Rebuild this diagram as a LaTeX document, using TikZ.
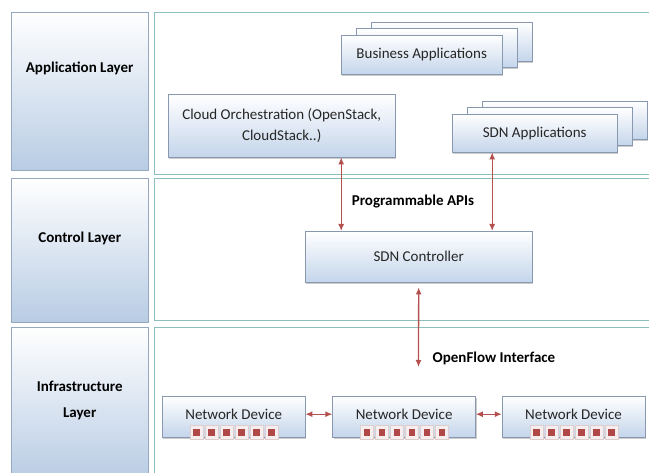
\documentclass[tikz,border=0pt]{standalone}
\usepackage{fontspec}
\setmainfont{Carlito}
\usetikzlibrary{positioning,shadows,arrows.meta}

\definecolor{laybot}{RGB}{184,204,228}
\definecolor{layline}{RGB}{150,168,190}
\definecolor{panline}{RGB}{140,190,190}
\definecolor{boxbot}{RGB}{196,213,235}
\definecolor{boxline}{RGB}{135,152,175}
\definecolor{arrowred}{RGB}{180,80,78}
\definecolor{portred}{RGB}{176,72,72}
\definecolor{portbg}{RGB}{246,238,238}
\definecolor{portline}{RGB}{222,205,205}

\begin{document}
\begin{tikzpicture}[x=1pt,y=1pt]
      \tikzset{
        node distance=27pt,
        every node/.style={font=\fontsize{15}{21}\selectfont,text=black!85},
        layerbox/.style={rectangle,draw=layline,top color=white,bottom color=laybot,
          minimum width=137pt,inner sep=0pt,anchor=north west,
          drop shadow={shadow xshift=0.8pt,shadow yshift=-1.2pt,opacity=0.35}},
        layertext/.style={font=\fontsize{15}{26}\selectfont\bfseries,align=center,text=black},
        panel/.style={rectangle,draw=panline,line width=0.8pt,fill=white,
          minimum width=506pt,inner sep=0pt,anchor=north west},
        appbox/.style={rectangle,draw=boxline,top color=white,bottom color=boxbot,
          inner sep=0pt,anchor=north west,align=center,
          drop shadow={shadow xshift=1pt,shadow yshift=-1.5pt,opacity=0.4}},
        devbox/.style={appbox,minimum width=143pt,minimum height=41pt,
          text height=19pt,text depth=14pt},
        port/.style={rectangle,draw=portline,fill=portbg,minimum width=13pt,
          minimum height=14pt,inner sep=0pt,
          path picture={\fill[portred] ([shift={(-3.2pt,-3.2pt)}]path picture bounding box.center) rectangle ++(6.4pt,6.4pt);}},
        link/.style={draw=arrowred,line width=1.3pt,<->,>={Latex[length=7pt,width=6pt]}},
        linklabel/.style={font=\fontsize{15}{18}\selectfont\bfseries,text=black}
      }
      \useasboundingbox (0,0) rectangle (649,-473);

      % layers
      \node[layerbox,minimum height=158pt] (applayer) at (11,-12) {};
      \node[layerbox,minimum height=144pt] (ctrllayer) at (11,-178) {};
      \node[layerbox,minimum height=153pt] (infralayer) at (11,-327) {};
      \node[layertext] (applbl) at ([yshift=-56pt]applayer.north) {Application Layer};
      \node[layertext] (ctrllbl) at ([yshift=-60pt]ctrllayer.north) {Control Layer};
      \node[layertext] (infralbl) at ([yshift=-73pt]infralayer.north) {Infrastructure\\Layer};

      \node[panel,minimum height=162pt] (apppanel) at (154,-12) {};
      \node[panel,minimum height=142pt] (ctrlpanel) at (154,-178) {};
      \node[panel,minimum height=153pt] (infrapanel) at (154,-327) {};

      % application layer
      \foreach \s in {2,1}
        \node[appbox,minimum width=161pt,minimum height=39pt] (bizapp\s) at (341+15*\s,-35+6.5*\s) {};
      \node[appbox,minimum width=161pt,minimum height=39pt] (bizapp) at (341,-35) {Business Applications};

      \foreach \s in {2,1}
        \node[appbox,minimum width=165pt,minimum height=38pt] (sdnapp\s) at (452+15*\s,-114+6.5*\s) {};
      \node[appbox,minimum width=165pt,minimum height=38pt] (sdnapp) at (452,-114) {SDN Applications};

      \node[appbox,minimum width=227pt,minimum height=63pt] (cloud) at (168,-94) {Cloud Orchestration (OpenStack,\\CloudStack..)};

      % control layer
      \node[appbox,minimum width=227pt,minimum height=51pt] (ctrl) at (305,-231) {SDN Controller};
      \node[linklabel] (apilbl) at (413,-202) {Programmable APIs};

      % infrastructure layer
      \node[devbox] (dev1) at (162,-396) {Network Device};
      \node[devbox,right=27pt of dev1.north east,anchor=north west] (dev2) {Network Device};
      \node[devbox,right=26pt of dev2.north east,anchor=north west] (dev3) {Network Device};
      \foreach \d in {dev1,dev2,dev3}
        \foreach \i in {0,...,5}
          \node[port] (\d-p\i) at ([xshift=34.5pt+15pt*\i,yshift=5pt]\d.south west) {};

      \node[linklabel] (oflbl) at (494,-358) {OpenFlow Interface};
      \coordinate (ofend) at (418.5,-367);

      \draw[link] ([xshift=59.5pt]cloud.south) -- ([xshift=59.5pt]cloud.south |- ctrl.north);
      \draw[link] ([xshift=-42.5pt]sdnapp.south) -- ([xshift=-42.5pt]sdnapp.south |- ctrl.north);
      \draw[link,shorten <=5pt] (ctrl.south) -- (ofend);
      \draw[link] ([yshift=2.5pt]dev1.east) -- ([yshift=2.5pt]dev2.west);
      \draw[link] ([yshift=2.5pt]dev2.east) -- ([yshift=2.5pt]dev3.west);
    \end{tikzpicture}
\end{document}
